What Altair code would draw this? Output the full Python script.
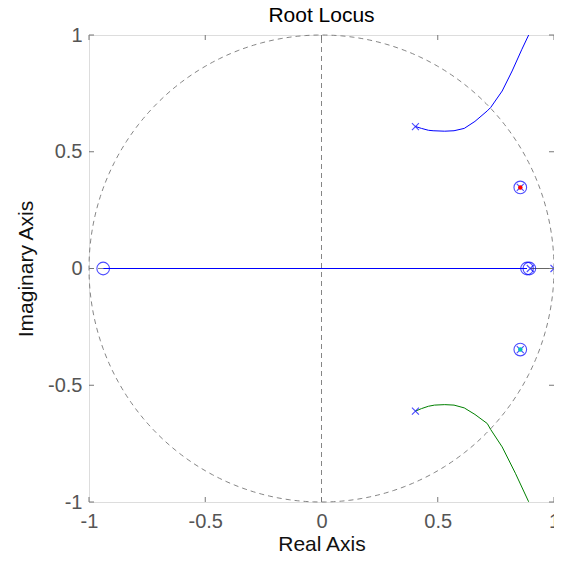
import altair as alt
import pandas as pd
import numpy as np

# ---- data ----
upper_re = [0.404, 0.43, 0.46, 0.48, 0.53, 0.57, 0.614, 0.66, 0.713, 0.728, 0.777, 0.82, 0.862, 0.891]
upper_im = [0.608, 0.600, 0.592, 0.590, 0.588, 0.590, 0.600, 0.630, 0.675, 0.690, 0.760, 0.846, 0.939, 1.000]
lower_re = [0.404, 0.43, 0.46, 0.486, 0.53, 0.57, 0.614, 0.66, 0.713, 0.728, 0.777, 0.834, 0.891]
lower_im = [-0.611, -0.600, -0.590, -0.585, -0.583, -0.585, -0.597, -0.625, -0.664, -0.690, -0.764, -0.877, -0.999]
real_branch_re = [-0.939, 0.884]
tail_re = [0.898, 1.0]

zero_re = [-0.939, 0.855, 0.855, 0.884, 0.894]
zero_im = [0.0, 0.347, -0.347, 0.0, 0.0]
pole_re = [0.404, 0.404, 0.855, 0.855, 0.898, 1.0]
pole_im = [0.608, -0.611, 0.347, -0.347, 0.0, 0.0]
dot_re = [0.855, 0.855]
dot_im = [0.347, -0.347]
dot_col = ["#ff0000", "#00bfbf"]

tick_vals = [-1, -0.5, 0, 0.5, 1]

FONT = "Liberation Sans"
W, H = 465, 467
tick_len = 5 / (H / 2)

xs = alt.Scale(domain=[-1, 1], nice=False, zero=False)
ys = alt.Scale(domain=[-1, 1], nice=False, zero=False)

xax = alt.Axis(values=tick_vals, ticks=False, domain=False, grid=False,
               labelFlush=False, labelOverlap=False,
               labelFont=FONT, labelFontSize=20, labelColor="#555555",
               labelPadding=9, labelExpr="toString(datum.value)",
               title="Real Axis", titleFont=FONT, titleFontSize=21, titleFontWeight="normal",
               titleColor="#111111", titleX=W / 2, titleY=42, titleBaseline="middle")
yax = alt.Axis(values=tick_vals, ticks=False, domain=False, grid=False,
               labelFlush=False, labelOverlap=False,
               labelFont=FONT, labelFontSize=20, labelColor="#555555",
               labelPadding=7, labelExpr="toString(datum.value)",
               title="Imaginary Axis", titleFont=FONT, titleFontSize=21, titleFontWeight="normal",
               titleColor="#111111", titleX=-63, titleY=H / 2, titleAngle=270,
               titleBaseline="middle", titleAlign="center")

# unit circle
th = np.linspace(0, 2 * np.pi, 361)
circ = pd.DataFrame({"x": np.cos(th), "y": np.sin(th), "i": np.arange(len(th))})
circle = alt.Chart(circ).mark_line(color="#777777", strokeDash=[5, 4], strokeWidth=0.9).encode(
    x=alt.X("x:Q", scale=xs, axis=xax), y=alt.Y("y:Q", scale=ys, axis=yax), order="i:Q")

vline = alt.Chart(pd.DataFrame({"x": [0], "y": [-1], "y2": [1]})).mark_rule(
    color="#777777", strokeDash=[5, 4], strokeWidth=0.9).encode(
    x=alt.X("x:Q", scale=xs), y=alt.Y("y:Q", scale=ys), y2="y2:Q")
hline = alt.Chart(pd.DataFrame({"x": [-1], "x2": [1], "y": [0]})).mark_rule(
    color="#777777", strokeDash=[5, 4], strokeWidth=0.9).encode(
    x=alt.X("x:Q", scale=xs), x2="x2:Q", y=alt.Y("y:Q", scale=ys))

def branch(re, im, color):
    df = pd.DataFrame({"x": re, "y": im, "i": range(len(re))})
    return alt.Chart(df).mark_line(color=color, strokeWidth=1, clip=True).encode(
        x=alt.X("x:Q", scale=xs), y=alt.Y("y:Q", scale=ys), order="i:Q")

up = branch(upper_re, upper_im, "#0000ff")
lo = branch(lower_re, lower_im, "#008000")
realb = branch(real_branch_re, [0, 0], "#0000ff")
tail = branch(tail_re, [0, 0], "#666666")

zeros = alt.Chart(pd.DataFrame({"x": zero_re, "y": zero_im})).mark_point(
    shape="circle", filled=False, color="#0000ff", size=160, strokeWidth=1.1).encode(
    x=alt.X("x:Q", scale=xs), y=alt.Y("y:Q", scale=ys))
poles = alt.Chart(pd.DataFrame({"x": pole_re, "y": pole_im})).mark_point(
    shape="M-1,-1L1,1M-1,1L1,-1", filled=False, color="#0000ff", size=49, strokeWidth=1.1).encode(
    x=alt.X("x:Q", scale=xs), y=alt.Y("y:Q", scale=ys))
dots = alt.Chart(pd.DataFrame({"x": dot_re, "y": dot_im, "c": dot_col})).mark_point(
    shape="circle", filled=True, size=20, opacity=1).encode(
    x=alt.X("x:Q", scale=xs), y=alt.Y("y:Q", scale=ys), color=alt.Color("c:N", scale=None))

# inward ticks on all four sides
tdf_b = pd.DataFrame({"x": tick_vals, "y": [-1] * 5, "y2": [-1 + tick_len] * 5})
tdf_t = pd.DataFrame({"x": tick_vals, "y": [1] * 5, "y2": [1 - tick_len] * 5})
tdf_l = pd.DataFrame({"y": tick_vals, "x": [-1] * 5, "x2": [-1 + tick_len * H / W] * 5})
tdf_r = pd.DataFrame({"y": tick_vals, "x": [1] * 5, "x2": [1 - tick_len * H / W] * 5})
tk = dict(color="#777777", strokeWidth=1)
ticks = [
    alt.Chart(tdf_b).mark_rule(**tk).encode(x=alt.X("x:Q", scale=xs), y=alt.Y("y:Q", scale=ys), y2="y2:Q"),
    alt.Chart(tdf_t).mark_rule(**tk).encode(x=alt.X("x:Q", scale=xs), y=alt.Y("y:Q", scale=ys), y2="y2:Q"),
    alt.Chart(tdf_l).mark_rule(**tk).encode(x=alt.X("x:Q", scale=xs), x2="x2:Q", y=alt.Y("y:Q", scale=ys)),
    alt.Chart(tdf_r).mark_rule(**tk).encode(x=alt.X("x:Q", scale=xs), x2="x2:Q", y=alt.Y("y:Q", scale=ys)),
]

chart = alt.layer(circle, vline, hline, realb, tail, up, lo, zeros, poles, dots, *ticks).properties(
    width=W, height=H,
    title=alt.TitleParams("Root Locus", font=FONT, fontSize=21, fontWeight="normal",
                          color="#000000", offset=-1, anchor="middle", frame="group"),
    padding={"left": 81, "top": 27, "right": 0, "bottom": 54},
    autosize=alt.AutoSizeParams(type="none"),
).configure_view(stroke="#777777", strokeWidth=1).configure(background="white")

chart.save("out.html", embed_options={"renderer": "svg", "actions": False})
